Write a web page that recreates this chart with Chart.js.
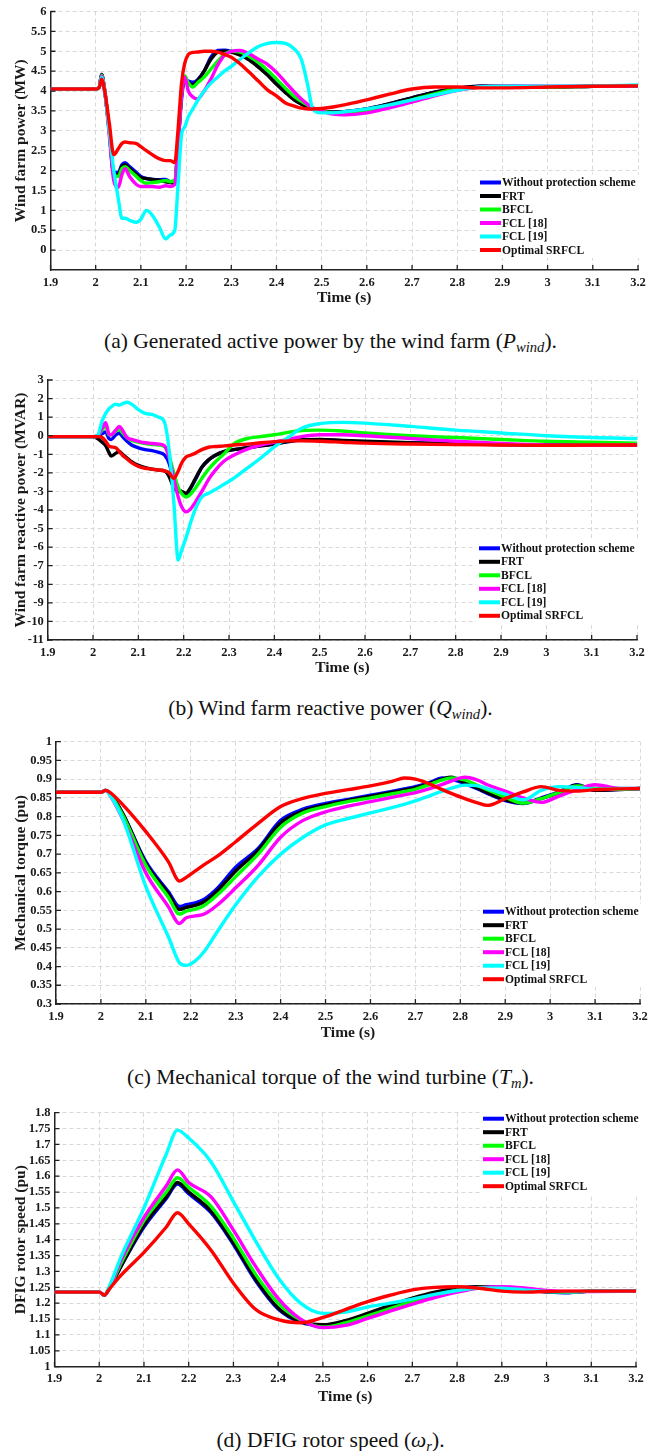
<!DOCTYPE html>
<html><head><meta charset="utf-8">
<script src="https://cdn.jsdelivr.net/npm/chart.js@4.4.1/dist/chart.umd.min.js"></script>
<style>
html,body{margin:0;padding:0;background:#fff;}
body{width:661px;height:1451px;position:relative;overflow:hidden;font-family:"Liberation Serif","Times New Roman",serif;}
.panel{position:absolute;left:0;width:661px;}
.cap{position:absolute;left:0;width:661px;text-align:center;font-size:21.5px;line-height:24px;color:#111;white-space:nowrap;}
.cap sub{font-size:0.68em;vertical-align:-0.3em;line-height:0;}
</style></head><body>
<div class="panel" style="top:0px;height:307px"><canvas id="ca"></canvas></div>
<div class="cap" style="top:329px">(a) Generated active power by the wind farm (<i>P</i><sub><i>wind</i></sub>).</div>
<div class="panel" style="top:360px;height:317px"><canvas id="cb"></canvas></div>
<div class="cap" style="top:696px">(b) Wind farm reactive power (<i>Q</i><sub><i>wind</i></sub>).</div>
<div class="panel" style="top:722px;height:320px"><canvas id="cc"></canvas></div>
<div class="cap" style="top:1065px">(c) Mechanical torque of the wind turbine (<i>T</i><sub><i>m</i></sub>).</div>
<div class="panel" style="top:1092px;height:314px"><canvas id="cd"></canvas></div>
<div class="cap" style="top:1428px">(d) DFIG rotor speed (<i>ω</i><sub><i>r</i></sub>).</div>
<script>
// ---------- shared ----------
const seriesNames = ["Without protection scheme", "FRT", "BFCL", "FCL [18]", "FCL [19]", "Optimal SRFCL"];
const seriesColors = ["#0000ff", "#000000", "#00ff00", "#ff00ff", "#00ffff", "#ff0000"];
const xTicks = [1.9, 2, 2.1, 2.2, 2.3, 2.4, 2.5, 2.6, 2.7, 2.8, 2.9, 3, 3.1, 3.2];

// ---------- (a) active power ----------
const tA = [1.9, 2.0, 2.008, 2.013, 2.02, 2.03, 2.04, 2.05, 2.058, 2.065, 2.075, 2.09, 2.1, 2.112, 2.125, 2.14, 2.155, 2.165, 2.175, 2.182, 2.19, 2.197, 2.205, 2.215, 2.225, 2.24, 2.255, 2.27, 2.285, 2.3, 2.32, 2.34, 2.36, 2.38, 2.4, 2.42, 2.44, 2.455, 2.47, 2.48, 2.5, 2.525, 2.55, 2.6, 2.65, 2.7, 2.75, 2.8, 2.85, 2.9, 3.0, 3.1, 3.2];
const aNoProt = [4.05,4.05,4.1,4.42,4.0, 3.0,1.95,1.95,2.15,2.2, 2.1,1.95,1.85,1.8,1.78, 1.77,1.78,1.72,1.75,2.6, 3.8,4.3,4.25,4.22,4.28, 4.5,4.85,5.02,5.03,5.0, 4.92,4.8,4.62,4.42,4.2, 3.98,3.78,3.68,3.6,3.56, 3.5,3.47,3.48,3.55,3.68, 3.83,3.97,4.07,4.12,4.12, 4.1,4.12,4.13];
const aFRT = [4.05,4.05,4.1,4.42,4.0, 3.0,1.9,1.9,2.1,2.15, 2.05,1.9,1.82,1.8,1.78, 1.76,1.72,1.7,1.68,2.6, 3.9,4.28,4.2,4.15,4.25, 4.5,4.8,4.98,5.0,4.98, 4.9,4.78,4.6,4.4,4.17, 3.96,3.77,3.67,3.59,3.55, 3.5,3.47,3.48,3.55,3.68, 3.83,3.97,4.07,4.12,4.12, 4.1,4.12,4.13];
const aBFCL = [4.05,4.05,4.1,4.4,4.0, 3.0,1.9,1.85,2.05,2.1, 2.0,1.85,1.75,1.68,1.7, 1.72,1.75,1.72,1.75,2.7, 3.9,4.38,4.2,4.1,4.2, 4.35,4.55,4.75,4.92,5.0, 4.98,4.87,4.72,4.52,4.3, 4.07,3.86,3.74,3.64,3.58, 3.5,3.45,3.43,3.5,3.63, 3.78,3.93,4.05,4.1,4.12, 4.1,4.12,4.13];
const aFCL18 = [4.05,4.05,4.1,4.38,4.0, 2.9,1.75,1.58,1.9,2.05, 1.85,1.65,1.6,1.6,1.6, 1.58,1.62,1.6,1.65,2.6, 3.9,4.35,4.0,3.85,3.8, 4.0,4.3,4.65,4.9,5.0, 5.02,4.93,4.8,4.67,4.47, 4.22,3.97,3.8,3.66,3.58, 3.5,3.42,3.4,3.45,3.58, 3.72,3.88,4.02,4.1,4.13, 4.12,4.12,4.13];
const aFCL19 = [4.05,4.05,4.1,4.35,4.0, 3.0,2.0,1.3,0.8,0.8, 0.75,0.7,0.78,1.0,0.88, 0.6,0.28,0.38,0.5,1.6, 2.9,3.1,3.35,3.55,3.75, 4.0,4.2,4.35,4.5,4.62, 4.8,4.97,5.12,5.2,5.22, 5.2,5.05,4.8,4.1,3.55, 3.45,3.45,3.48,3.55,3.65, 3.78,3.9,4.02,4.1,4.12, 4.12,4.13,4.15];
const aSRFCL = [4.05,4.05,4.1,4.3,4.0, 3.2,2.4,2.55,2.68,2.72, 2.7,2.68,2.6,2.5,2.4, 2.3,2.25,2.25,2.2,3.0, 4.2,4.7,4.92,4.97,4.98, 5.0,5.0,4.98,4.92,4.85, 4.68,4.47,4.25,4.03,3.88, 3.7,3.62,3.57,3.55,3.55, 3.56,3.6,3.65,3.78,3.92, 4.05,4.1,4.1,4.08,4.08, 4.1,4.12,4.13];
const yTicksA = [0, 0.5, 1, 1.5, 2, 2.5, 3, 3.5, 4, 4.5, 5, 5.5, 6];

// ---------- (b) reactive power ----------
const tB = [1.9, 2.0, 2.01, 2.02, 2.028, 2.035, 2.04, 2.05, 2.058, 2.065, 2.075, 2.085, 2.1, 2.115, 2.13, 2.145, 2.158, 2.168, 2.178, 2.188, 2.195, 2.205, 2.215, 2.225, 2.24, 2.255, 2.27, 2.29, 2.31, 2.34, 2.37, 2.4, 2.43, 2.46, 2.5, 2.55, 2.6, 2.7, 2.8, 2.9, 3.0, 3.1, 3.2];
const bNoProt = [-0.05,-0.05,-0.05,0.1,0.2, -0.15,-0.2,0.05,0.15,-0.05, -0.3,-0.5,-0.65,-0.75,-0.8, -0.9,-1.05,-1.5,-2.4,-2.9, -3.0,-3.15,-2.85,-2.4,-1.7, -1.3,-1.05,-0.85,-0.75,-0.65, -0.55,-0.45,-0.32,-0.24,-0.22, -0.28,-0.33,-0.4,-0.45,-0.48, -0.5,-0.5,-0.5];
const bFRT = [-0.05,-0.05,-0.15,-0.35,-0.55, -0.9,-1.1,-0.95,-0.85,-1.0, -1.2,-1.4,-1.6,-1.72,-1.8, -1.85,-1.9,-2.2,-2.8,-3.0, -3.0,-3.1,-2.8,-2.35,-1.7, -1.3,-1.05,-0.85,-0.75,-0.65, -0.55,-0.45,-0.32,-0.22,-0.2, -0.25,-0.3,-0.38,-0.43,-0.47, -0.5,-0.5,-0.5];
const bBFCL = [-0.05,-0.05,0.0,0.3,0.55, 0.05,0.05,0.25,0.35,0.15, -0.1,-0.25,-0.35,-0.42,-0.47, -0.5,-0.6,-1.1,-2.0,-2.8, -3.1,-3.3,-3.15,-2.85,-2.3, -1.8,-1.4,-0.95,-0.45,-0.15, -0.05,0.05,0.18,0.28,0.3, 0.25,0.15,0.0,-0.1,-0.2, -0.3,-0.35,-0.4];
const bFCL18 = [-0.05,-0.05,0.0,0.4,0.7, 0.1,0.05,0.3,0.5,0.3, -0.1,-0.2,-0.3,-0.38,-0.42, -0.45,-0.55,-1.2,-2.3,-3.3, -3.8,-4.1,-3.95,-3.6,-3.0, -2.35,-1.85,-1.35,-1.05,-0.72, -0.5,-0.35,-0.2,-0.05,0.05, 0.05,0.0,-0.15,-0.3,-0.42, -0.5,-0.52,-0.5];
const bFCL19 = [-0.05,-0.05,0.0,0.8,1.2, 1.45,1.55,1.7,1.65,1.72, 1.8,1.7,1.4,1.2,1.15, 1.0,0.7,-0.8,-3.5,-6.7, -6.2,-5.5,-4.7,-4.0,-3.3, -3.1,-2.9,-2.6,-2.3,-1.75, -1.2,-0.6,-0.1,0.4,0.65, 0.72,0.68,0.5,0.3,0.15, 0.0,-0.1,-0.15];
const bSRFCL = [-0.05,-0.05,-0.05,-0.1,-0.3, -0.55,-0.6,-0.65,-0.85,-1.05, -1.25,-1.45,-1.65,-1.75,-1.8, -1.85,-1.9,-2.0,-2.3,-1.9, -1.5,-1.15,-1.05,-0.95,-0.75, -0.62,-0.58,-0.55,-0.5,-0.45, -0.38,-0.32,-0.28,-0.28,-0.3, -0.35,-0.4,-0.45,-0.48,-0.5, -0.52,-0.5,-0.5];
const yTicksB = [-11, -10, -9, -8, -7, -6, -5, -4, -3, -2, -1, 0, 1, 2, 3];

// ---------- (c) mechanical torque ----------
const tC = [1.9, 2.0, 2.01, 2.02, 2.05, 2.1, 2.15, 2.175, 2.19, 2.21, 2.23, 2.26, 2.3, 2.35, 2.4, 2.45, 2.5, 2.55, 2.6, 2.65, 2.675, 2.7, 2.73, 2.76, 2.78, 2.81, 2.84, 2.86, 2.9, 2.94, 2.98, 3.02, 3.06, 3.1, 3.15, 3.2];
const cNoProt = [0.865,0.865,0.87,0.862,0.805, 0.68,0.6,0.56,0.565,0.57, 0.58,0.61,0.665,0.715,0.79, 0.82,0.835,0.846,0.857,0.868, 0.874,0.88,0.89,0.903,0.9, 0.888,0.873,0.862,0.843,0.835, 0.85,0.866,0.885,0.87,0.872, 0.875];
const cFRT = [0.865,0.865,0.87,0.862,0.805, 0.675,0.595,0.552,0.558,0.563, 0.573,0.603,0.655,0.71,0.783, 0.815,0.831,0.843,0.854,0.865, 0.871,0.877,0.888,0.9,0.905, 0.89,0.875,0.864,0.845,0.836, 0.848,0.864,0.884,0.87,0.872, 0.875];
const cBFCL = [0.865,0.865,0.87,0.86,0.8, 0.67,0.585,0.54,0.548,0.553, 0.563,0.592,0.64,0.7,0.772, 0.81,0.827,0.84,0.85,0.861, 0.867,0.873,0.885,0.898,0.903, 0.898,0.882,0.872,0.852,0.836, 0.848,0.865,0.882,0.875,0.873, 0.875];
const cFCL18 = [0.865,0.865,0.87,0.858,0.79, 0.65,0.56,0.515,0.53,0.535, 0.54,0.565,0.61,0.67,0.745, 0.79,0.813,0.828,0.84,0.852, 0.858,0.864,0.874,0.886,0.895, 0.905,0.897,0.885,0.868,0.85, 0.838,0.855,0.872,0.885,0.876, 0.875];
const cFCL19 = [0.865,0.865,0.87,0.858,0.79, 0.613,0.48,0.41,0.403,0.415, 0.44,0.495,0.565,0.64,0.7, 0.745,0.778,0.795,0.81,0.825, 0.833,0.842,0.855,0.868,0.876, 0.884,0.882,0.875,0.86,0.845, 0.87,0.88,0.878,0.873,0.875, 0.875];
const cSRFCL = [0.865,0.865,0.87,0.865,0.83, 0.76,0.68,0.628,0.638,0.655, 0.672,0.695,0.733,0.782,0.827, 0.849,0.862,0.872,0.882,0.895, 0.903,0.9,0.888,0.872,0.862, 0.848,0.836,0.83,0.848,0.866, 0.88,0.87,0.868,0.872,0.874, 0.875];
const yTicksC = [0.3, 0.35, 0.4, 0.45, 0.5, 0.55, 0.6, 0.65, 0.7, 0.75, 0.8, 0.85, 0.9, 0.95, 1];

// ---------- (d) rotor speed ----------
const tD = [1.9, 2.0, 2.012, 2.02, 2.05, 2.1, 2.15, 2.175, 2.2, 2.25, 2.3, 2.35, 2.4, 2.45, 2.5, 2.55, 2.6, 2.65, 2.7, 2.75, 2.8, 2.85, 2.9, 2.95, 3.0, 3.05, 3.1, 3.2];
const dNoProt = [1.235,1.235,1.225,1.24,1.32, 1.44,1.53,1.575,1.545,1.485, 1.385,1.27,1.182,1.14,1.13, 1.143,1.165,1.19,1.213,1.232, 1.245,1.252,1.25,1.243,1.236, 1.233,1.238,1.238];
const dFRT = [1.235,1.235,1.225,1.24,1.32, 1.445,1.535,1.58,1.55,1.49, 1.39,1.275,1.185,1.142,1.132, 1.145,1.168,1.193,1.216,1.235, 1.247,1.252,1.249,1.242,1.236, 1.234,1.238,1.238];
const dBFCL = [1.235,1.235,1.225,1.24,1.33, 1.46,1.55,1.595,1.565,1.505, 1.405,1.29,1.2,1.148,1.125, 1.138,1.16,1.183,1.205,1.225, 1.24,1.25,1.25,1.245,1.238, 1.235,1.238,1.238];
const dFCL18 = [1.235,1.235,1.225,1.24,1.34, 1.47,1.57,1.62,1.58,1.535, 1.43,1.315,1.215,1.15,1.123, 1.13,1.152,1.175,1.197,1.218, 1.235,1.248,1.252,1.248,1.24, 1.237,1.237,1.238];
const dFCL19 = [1.235,1.235,1.225,1.245,1.35, 1.5,1.67,1.745,1.72,1.645, 1.52,1.395,1.28,1.2,1.168, 1.172,1.188,1.2,1.213,1.228, 1.24,1.248,1.247,1.242,1.237, 1.236,1.238,1.238];
const dSRFCL = [1.235,1.235,1.225,1.24,1.29, 1.36,1.44,1.485,1.45,1.367, 1.263,1.18,1.148,1.138,1.155, 1.18,1.205,1.225,1.242,1.25, 1.252,1.247,1.238,1.235,1.237, 1.238,1.238,1.238];
const yTicksD = [1, 1.05, 1.1, 1.15, 1.2, 1.25, 1.3, 1.35, 1.4, 1.45, 1.5, 1.55, 1.6, 1.65, 1.7, 1.75, 1.8];

// ---------- chart helpers ----------
Chart.defaults.font.family = '"Liberation Serif", "Times New Roman", serif';
Chart.defaults.color = '#1a1a1a';
const drawOrder = [5, 4, 3, 2, 1, 0]; // red drawn on top
const fmt = v => String(+Number(v).toFixed(2));

const innerTicks = {
  id: 'innerTicks',
  afterDraw(chart) {
    const {ctx, chartArea: a, scales: {x, y}} = chart;
    ctx.save();
    ctx.strokeStyle = '#222';
    ctx.lineWidth = 1.3;
    ctx.beginPath();
    x.ticks.forEach(t => { const px = x.getPixelForValue(t.value); ctx.moveTo(px, a.bottom); ctx.lineTo(px, a.bottom - 5); });
    y.ticks.forEach(t => { const py = y.getPixelForValue(t.value); ctx.moveTo(a.left, py); ctx.lineTo(a.left + 5, py); });
    ctx.stroke();
    ctx.restore();
  }
};

const innerLegend = {
  id: 'innerLegend',
  afterDraw(chart, args, opts) {
    const {ctx, chartArea: a} = chart;
    const x0 = a.right - opts.w, y0 = a.top + opts.dy, step = 13.5;
    ctx.save();
    ctx.fillStyle = '#fff';
    ctx.fillRect(x0 - 3, y0 - 8, a.right - x0 + 4, step * 5 + 16);
    ctx.font = 'bold 11.6px "Liberation Serif", serif';
    ctx.textBaseline = 'middle';
    seriesNames.forEach((n, i) => {
      const yy = y0 + i * step;
      ctx.strokeStyle = seriesColors[i];
      ctx.lineWidth = 4;
      ctx.beginPath(); ctx.moveTo(x0, yy); ctx.lineTo(x0 + 21, yy); ctx.stroke();
      ctx.fillStyle = '#111';
      ctx.fillText(n, x0 + 22, yy + 0.5);
    });
    ctx.restore();
  }
};

function makeChart(id, cfg) {
  return new Chart(document.getElementById(id), {
    type: 'line',
    data: {
      datasets: cfg.series.map((vals, i) => ({
        label: seriesNames[i],
        data: cfg.t.map((x, j) => ({x: x, y: vals[j]})),
        borderColor: seriesColors[i],
        backgroundColor: seriesColors[i],
        borderWidth: 3.4,
        pointRadius: 0,
        fill: false,
        cubicInterpolationMode: 'monotone',
        order: drawOrder[i]
      }))
    },
    options: {
      responsive: true,
      maintainAspectRatio: false,
      animation: false,
      events: [],
      layout: {padding: {top: cfg.padTop, right: cfg.padRight, left: 0, bottom: 0}},
      plugins: {
        legend: {display: false},
        tooltip: {enabled: false},
        innerLegend: {w: cfg.legW, dy: cfg.legDy}
      },
      scales: {
        x: {
          type: 'linear', min: 1.9, max: 3.2,
          afterBuildTicks: s => { s.ticks = xTicks.map(v => ({value: v})); },
          afterFit: s => { s.height = cfg.xH; },
          ticks: {callback: fmt, font: {size: 12.5, weight: 'bold'}, padding: 5, maxRotation: 0, autoSkip: false, color: '#1a1a1a'},
          grid: {color: '#d8d8d8', lineWidth: 1, drawTicks: false},
          border: {display: true, color: '#222', width: 1.5, dash: [4, 3]},
          title: {display: true, text: 'Time (s)', font: {size: 15.5, weight: 'bold'}, padding: {top: 0, bottom: 0}, color: '#1a1a1a'}
        },
        y: {
          type: 'linear', min: cfg.yMin, max: cfg.yMax,
          afterBuildTicks: s => { s.ticks = cfg.yTicks.map(v => ({value: v})); },
          afterFit: s => { s.width = cfg.yW; },
          ticks: {callback: fmt, font: {size: 12.5, weight: 'bold'}, padding: 4, autoSkip: false, color: '#1a1a1a'},
          grid: {color: '#d8d8d8', lineWidth: 1, drawTicks: false},
          border: {display: true, color: '#222', width: 1.5, dash: [4, 3]},
          title: {display: true, text: cfg.yTitle, font: {size: 15.5, weight: 'bold'}, padding: {top: 11.7, bottom: 0}, color: '#1a1a1a'}
        }
      }
    },
    plugins: [innerTicks, innerLegend]
  });
}

makeChart('ca', {t: tA, series: [aNoProt, aFRT, aBFCL, aFCL18, aFCL19, aSRFCL], yMin: -0.5, yMax: 6, yTicks: yTicksA,
  yTitle: 'Wind farm power (MW)', padTop: 8.3, padRight: 23, yW: 50.5, xH: 37, legW: 158, legDy: 171});
makeChart('cb', {t: tB, series: [bNoProt, bFRT, bBFCL, bFCL18, bFCL19, bSRFCL], yMin: -11, yMax: 3, yTicks: yTicksB,
  yTitle: 'Wind farm reactive power (MVAR)', padTop: 20, padRight: 24, yW: 47.7, xH: 37, legW: 158, legDy: 168.3});
makeChart('cc', {t: tC, series: [cNoProt, cFRT, cBFCL, cFCL18, cFCL19, cSRFCL], yMin: 0.3, yMax: 1, yTicks: yTicksC,
  yTitle: 'Mechanical torque (pu)', padTop: 19.7, padRight: 21, yW: 56, xH: 38, legW: 157, legDy: 170});
makeChart('cd', {t: tD, series: [dNoProt, dFRT, dBFCL, dFCL18, dFCL19, dSRFCL], yMin: 1, yMax: 1.8, yTicks: yTicksD,
  yTitle: 'DFIG rotor speed (pu)', padTop: 20.7, padRight: 25, yW: 54.5, xH: 39.3, legW: 153, legDy: 6});
</script>
</body></html>
